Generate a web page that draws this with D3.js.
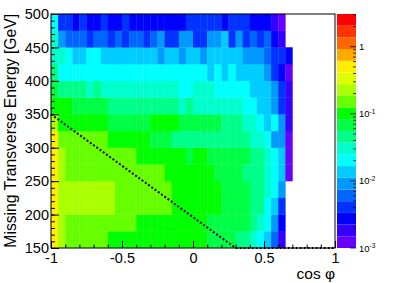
<!DOCTYPE html>
<html lang="en">
	<head>
		<meta charset="utf-8">
		<title>MET vs cos phi</title>
		<script type="text/javascript" src="https://cdn.jsdelivr.net/npm/d3@7/dist/d3.min.js"></script>
		<style>
			body { margin: 0; background: #fff; }
			text { font-family: "Liberation Sans", Arial, Helvetica, sans-serif; }
		</style>
	</head>
	<body>
		<script type="text/javascript">
			//Bins: MET lower edges (25 GeV wide), cos phi lower edges (0.05 wide)
			var metBins = [150, 175, 200, 225, 250, 275, 300, 325, 350, 375, 400, 425, 450, 475];
			var cosBins = d3.range(40).map(function(i) { return -1 + i * 0.05; });

			//Bin contents in units of 10^-3, one list per MET bin, index = cos phi bin
			var met150 = [500,230,150,150,150,150,150,150,100,100,100,100,100,100,100,100,100,100,100,100,100,100,68,68,68,68,45,45,30,20,14,6.1,1.8];
			var met175 = [500,230,150,150,150,150,150,150,150,150,150,150,100,100,100,100,100,100,100,100,100,100,68,68,68,68,68,68,45,30,20,9.1,2.7];
			var met200 = [500,230,230,230,230,230,230,230,230,150,150,150,150,150,150,150,150,100,100,100,100,100,100,100,68,68,68,68,45,45,20,14,4.1];
			var met225 = [500,230,230,230,230,230,230,230,230,150,150,150,150,150,150,150,150,100,100,100,100,100,100,100,68,68,68,68,45,45,30,20,9.1];
			var met250 = [500,230,150,150,150,150,150,150,150,150,150,150,150,150,150,150,100,100,100,100,100,100,100,68,68,68,68,45,45,45,30,20,14,1.2];
			var met275 = [500,230,150,150,150,150,150,150,150,150,150,150,100,100,100,100,100,100,100,68,100,100,68,68,68,68,68,68,45,45,30,20,14,1.2];
			var met300 = [500,150,150,150,150,150,150,150,100,100,100,100,100,100,68,68,68,45,45,45,45,45,45,45,45,45,45,45,30,30,20,9.1,9.1,1.2];
			var met325 = [230,100,100,100,100,100,100,100,68,68,68,68,68,68,100,100,100,100,68,68,68,68,68,68,45,45,45,30,30,20,14,20,9.1,1.8];
			var met350 = [100,100,100,68,68,68,68,68,45,45,45,45,45,45,45,45,45,45,30,45,30,30,30,30,30,30,30,20,20,14,14,9.1,4.1,1.8];
			var met375 = [68,45,45,45,45,30,45,30,30,30,30,30,30,30,30,30,30,30,20,20,30,30,30,20,20,20,20,20,14,14,14,9.1,4.1,1.8];
			var met400 = [45,20,20,20,20,20,20,20,20,20,20,20,20,20,20,20,20,20,20,20,20,20,14,20,14,20,14,14,14,14,9.1,4.1,2.7,1.2];
			var met425 = [30,30,20,14,14,20,20,14,14,14,14,14,14,14,14,9.1,14,14,9.1,14,14,9.1,14,14,14,14,14,9.1,9.1,9.1,6.1,4.1,4.1,2.7];
			var met450 = [30,9.1,6.1,6.1,6.1,4.1,6.1,6.1,4.1,6.1,4.1,6.1,6.1,4.1,6.1,9.1,4.1,4.1,9.1,9.1,4.1,4.1,9.1,9.1,14,4.1,9.1,4.1,6.1,4.1,6.1,2.7,1.8];
			var met475 = [20,4.1,4.1,2.7,4.1,2.7,2.7,4.1,2.7,2.7,4.1,2.7,2.7,2.7,2.7,2.7,2.7,2.7,2.7,4.1,4.1,4.1,4.1,4.1,2.7,4.1,4.1,4.1,2.7,2.7,2.7,1.8,1.2];
			var rows = [met150, met175, met200, met225, met250, met275, met300,
						met325, met350, met375, met400, met425, met450, met475];

			//Dotted cut line
			var cutCos = [-1, 0.3, 1];
			var cutMet = [350, 150, 150];

			//Axis ticks
			var xMajor = [-1, -0.5, 0, 0.5, 1];
			var yMajor = [150, 200, 250, 300, 350, 400, 450, 500];
			var zLabels = [["1", ""], ["10", "-1"], ["10", "-2"], ["10", "-3"]];
			var zMajor = [1, 0.1, 0.01, 0.001];

			//Colour palette, 20 contours, lowest first
			var palette = ["#6600ff", "#3300ff", "#0000ff", "#0033ff", "#0066ff",
						   "#0099ff", "#00ccff", "#00ffff", "#00ffcc", "#00ff88",
						   "#00ff44", "#00ff00", "#66ff00", "#aaff00", "#ddff00",
						   "#ffee00", "#ffaa00", "#ff6600", "#ff3300", "#ff0000"];
			var zMin = 0.001, zMax = 3.07;

			//Width and height, frame edges
			var w = 395, h = 283;
			var padL = 51, padR = 335, padT = 14, padB = 248;

			var svg = d3.select("body")
						.append("svg")
						.attr("width", w)
						.attr("height", h);

			svg.append("rect").attr("width", w).attr("height", h).attr("fill", "white");

			var x = d3.scaleLinear().domain([-1, 1]).range([padL, padR]);
			var y = d3.scaleLinear().domain([150, 500]).range([padB, padT]);
			var zAxis = d3.scaleLog().domain([zMin, zMax]).range([padB, padT]);
			var zIndex = d3.scaleLinear()
						.domain([Math.log10(zMin), Math.log10(zMax)])
						.range([0, palette.length]);

			function colour(v) {
				var k = Math.floor(zIndex(Math.log10(v)));
				return palette[Math.max(0, Math.min(palette.length - 1, k))];
			}

			//Cells
			rows.forEach(function(row, i) {
				svg.append("g")
					.selectAll("rect")
					.data(row)
					.enter()
					.append("rect")
					.attr("x", function(d, j) { return x(cosBins[j]); })
					.attr("width", function(d, j) { return x(cosBins[j] + 0.05) - x(cosBins[j]) + 0.3; })
					.attr("y", y(metBins[i] + 25) - 0.15)
					.attr("height", y(metBins[i]) - y(metBins[i] + 25) + 0.3)
					.attr("fill", function(d) { return colour(d * 1e-3); });
			});

			//Cut line
			var cutLine = d3.line()
						.x(function(d, i) { return x(cutCos[i]); })
						.y(function(d, i) { return y(cutMet[i]); });
			svg.append("path")
				.attr("d", cutLine(cutCos))
				.attr("fill", "none")
				.attr("stroke", "black")
				.attr("stroke-width", 2)
				.attr("stroke-dasharray", "2,2");

			//Axes (ticks inside)
			function styleAxis(g) {
				g.select(".domain").remove();
				g.selectAll("line").attr("stroke", "black");
				g.selectAll("text")
					.attr("fill", "black")
					.attr("font-family", "Liberation Sans, Arial, sans-serif")
					.attr("font-size", "14.5px");
			}

			svg.append("g")
				.attr("transform", "translate(0," + padB + ")")
				.call(d3.axisBottom(x).tickValues(d3.range(-1, 1.001, 0.1)).tickSize(-3.5).tickFormat(""))
				.call(styleAxis);
			svg.append("g")
				.attr("transform", "translate(0," + padB + ")")
				.call(d3.axisBottom(x).tickValues(xMajor).tickSizeInner(-7).tickSizeOuter(0).tickPadding(5)
					.tickFormat(function(d) { return String(d); }))
				.call(styleAxis);

			svg.append("g")
				.attr("transform", "translate(" + padL + ",0)")
				.call(d3.axisLeft(y).tickValues(d3.range(150, 501, 10)).tickSize(-4).tickFormat(""))
				.call(styleAxis);
			svg.append("g")
				.attr("transform", "translate(" + padL + ",0)")
				.call(d3.axisLeft(y).tickValues(yMajor).tickSizeInner(-8).tickSizeOuter(0).tickPadding(2)
					.tickFormat(function(d) { return String(d); }))
				.call(styleAxis);

			//Frame
			svg.append("rect")
				.attr("x", padL)
				.attr("y", padT)
				.attr("width", padR - padL)
				.attr("height", padB - padT)
				.attr("fill", "none")
				.attr("stroke", "black")
				.attr("stroke-width", 1);

			//Axis titles
			svg.append("text")
				.attr("x", padR)
				.attr("y", 279)
				.attr("text-anchor", "end")
				.attr("font-size", "15.5px")
				.text("cos \u03c6");

			svg.append("text")
				.attr("transform", "translate(16," + padT + ") rotate(-90)")
				.attr("text-anchor", "end")
				.attr("font-size", "15.7px")
				.text("Missing Transverse Energy [GeV]");

			//Palette
			var palLeft = 337, palRight = 356;
			var step = (Math.log10(zMax) - Math.log10(zMin)) / palette.length;
			svg.append("g")
				.selectAll("rect")
				.data(palette)
				.enter()
				.append("rect")
				.attr("x", palLeft)
				.attr("width", palRight - palLeft)
				.attr("y", function(d, k) { return zAxis(Math.pow(10, Math.log10(zMin) + (k + 1) * step)); })
				.attr("height", function(d, k) {
					return zAxis(Math.pow(10, Math.log10(zMin) + k * step)) -
						   zAxis(Math.pow(10, Math.log10(zMin) + (k + 1) * step));
				})
				.attr("fill", function(d) { return d; });

			var zMinor = [];
			zMajor.forEach(function(dec) {
				for (var m = 2; m <= 9; m++) {
					if (dec * m <= zMax) zMinor.push(dec * m);
				}
			});

			svg.append("g")
				.selectAll("line")
				.data(zMinor)
				.enter()
				.append("line")
				.attr("x1", palRight - 3)
				.attr("x2", palRight)
				.attr("y1", function(d) { return zAxis(d); })
				.attr("y2", function(d) { return zAxis(d); })
				.attr("stroke", "black")
				.attr("stroke-opacity", 0.75);

			svg.append("g")
				.selectAll("line")
				.data(zMajor)
				.enter()
				.append("line")
				.attr("x1", palRight - 6)
				.attr("x2", palRight)
				.attr("y1", function(d) { return zAxis(d); })
				.attr("y2", function(d) { return zAxis(d); })
				.attr("stroke", "black")
				.attr("stroke-opacity", 0.75);

			var zText = svg.append("g")
				.selectAll("text")
				.data(zMajor)
				.enter()
				.append("text")
				.attr("x", 359)
				.attr("y", function(d) { return zAxis(d) + 3.5; })
				.attr("font-size", "9.5px")
				.attr("fill", "black");
			zText.append("tspan")
				.text(function(d, i) { return zLabels[i][0]; });
			zText.append("tspan")
				.attr("font-size", "6.5px")
				.attr("dy", -3.5)
				.text(function(d, i) { return zLabels[i][1]; });
		</script>
	</body>
</html>
